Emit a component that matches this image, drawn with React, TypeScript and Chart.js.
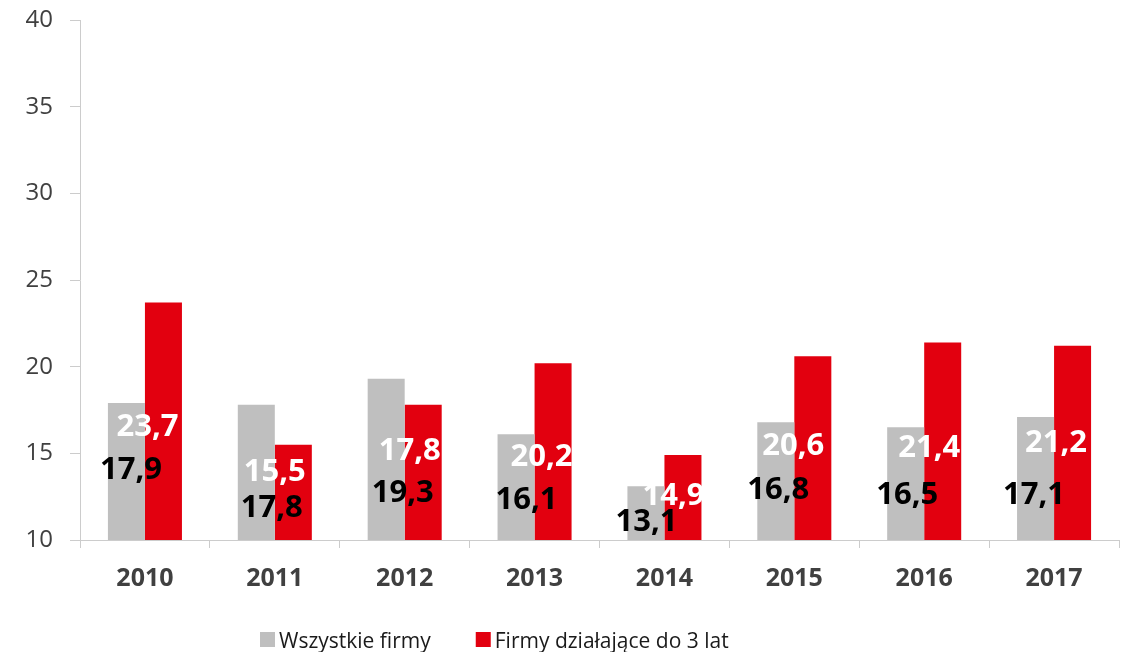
import React, { useEffect, useRef } from "react";
import { Chart, registerables } from "chart.js";

Chart.register(...registerables);

const categories = ["2010", "2011", "2012", "2013", "2014", "2015", "2016", "2017"];
const seriesNames = ["Wszystkie firmy", "Firmy działające do 3 lat"];
const allFirms = [17.9, 17.8, 19.3, 16.1, 13.1, 16.8, 16.5, 17.1];
const youngFirms = [23.7, 15.5, 17.8, 20.2, 14.9, 20.6, 21.4, 21.2];
const yMin = 10;
const yMax = 40;
const yStep = 5;

// where the value labels sit (in value units) and their sideways shift (px)
const allLabelLevel = [14.0, 11.85, 12.7, 12.3, 11.0, 12.9, 12.6, 12.6];
const youngLabelLevel = [16.5, 13.9, 15.1, 14.8, 12.5, 15.4, 15.3, 15.6];
const allLabelShift = [-14, -3, -2, -8, -18, -16, -17, -20];
const youngLabelShift = [2.5, 0, 5, 7, 9, -1, 5, 2];

const GRAY = "#BFBFBF";
const RED = "#E2000F";
const AXIS = "#CCCCCC";
const TEXT = "#404040";

const fmt = (v: number) => v.toFixed(1).replace(".", ",");

const valueLabels = {
  id: "valueLabels",
  afterDatasetsDraw(chart: any) {
    const ctx = chart.ctx;
    const xs = chart.scales.x;
    const ys = chart.scales.y;
    const specs = [
      { data: allFirms, level: allLabelLevel, shift: allLabelShift, color: "#000000" },
      { data: youngFirms, level: youngLabelLevel, shift: youngLabelShift, color: "#FFFFFF" },
    ];
    ctx.save();
    ctx.font = "bold 31px 'Open Sans'";
    ctx.textAlign = "center";
    ctx.textBaseline = "middle";
    specs.forEach((s) => {
      ctx.fillStyle = s.color;
      s.data.forEach((v, i) => {
        const x = xs.getPixelForValue(i) + s.shift[i];
        const y = ys.getPixelForValue(s.level[i]);
        ctx.fillText(fmt(v), x, y);
      });
    });
    ctx.restore();
  },
};

const customLegend = {
  id: "customLegend",
  afterDraw(chart: any) {
    const ctx = chart.ctx;
    ctx.save();
    ctx.font = "21px 'Open Sans'";
    ctx.textBaseline = "alphabetic";
    ctx.textAlign = "left";
    let x = 260;
    const baseline = 648;
    chart.data.datasets.forEach((ds: any) => {
      ctx.fillStyle = ds.backgroundColor;
      ctx.fillRect(x, baseline - 16, 15, 15);
      x += 19;
      ctx.fillStyle = "#1a1a1a";
      ctx.fillText(ds.label, x, baseline);
      x += ctx.measureText(ds.label).width + 45;
    });
    ctx.restore();
  },
};

export default function App() {
  const ref = useRef<HTMLCanvasElement | null>(null);
  useEffect(() => {
    if (!ref.current) return;
    const chart = new Chart(ref.current, {
      type: "bar",
      data: {
        labels: categories,
        datasets: [
          { label: seriesNames[0], data: allFirms, backgroundColor: GRAY, borderWidth: 0 },
          { label: seriesNames[1], data: youngFirms, backgroundColor: RED, borderWidth: 0 },
        ],
      },
      options: {
        responsive: false,
        animation: false,
        devicePixelRatio: 1,
        layout: { padding: { top: 20, right: 8, left: 0, bottom: 0 } },
        plugins: { legend: { display: false }, tooltip: { enabled: false } },
        datasets: { bar: { categoryPercentage: 0.57, barPercentage: 1.0 } },
        scales: {
          x: {
            grid: { display: true, drawOnChartArea: false, offset: true, color: AXIS, tickLength: 8 },
            border: { color: AXIS, width: 1 },
            ticks: { color: TEXT, font: { family: "'Open Sans'", size: 25, weight: "bold" }, padding: 16 },
            afterFit: (s: any) => { s.height = 112; },
          },
          y: {
            min: yMin,
            max: yMax,
            grid: { display: true, drawOnChartArea: false, color: AXIS, tickLength: 10 },
            border: { color: AXIS, width: 1 },
            ticks: { stepSize: yStep, color: TEXT, font: { family: "'Open Sans'", size: 24 }, padding: 17 },
            afterFit: (s: any) => { s.width = 80; s.paddingTop = 0; s.paddingBottom = 0; },
          },
        },
      },
      plugins: [valueLabels, customLegend],
    } as any);
    return () => chart.destroy();
  }, []);
  return (
    <div style={{ position: "absolute", left: 0, top: 0, width: 1127, height: 652, background: "#fff" }}>
      <canvas ref={ref} width={1127} height={652} />
    </div>
  );
}
